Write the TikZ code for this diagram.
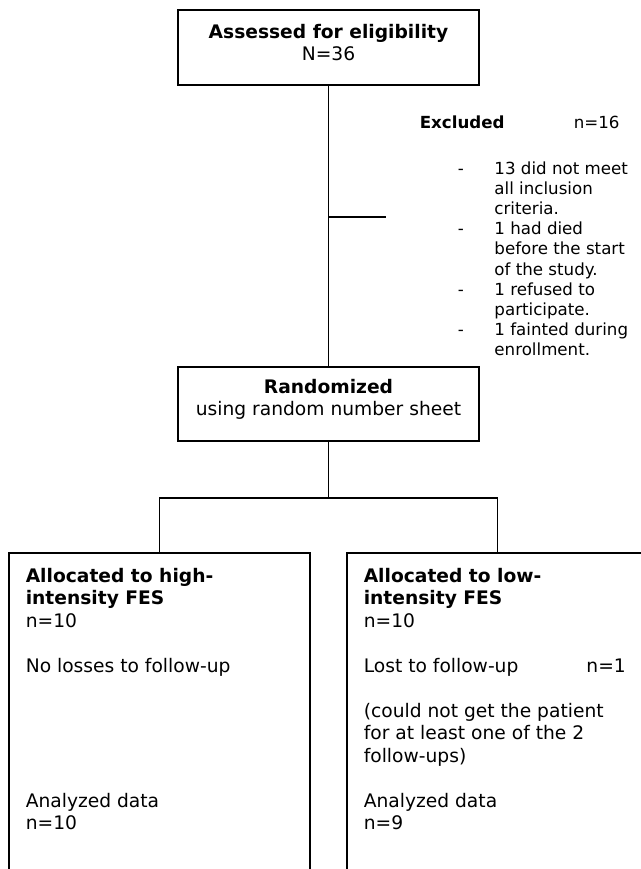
\documentclass[tikz,border=0pt]{standalone}
\usepackage{fontspec}
\setmainfont{DejaVu Sans}

\begin{document}
\begin{tikzpicture}[x=0.75pt, y=-0.75pt, line width=1.2pt,
    box/.style={draw, inner sep=0pt, minimum width=225.75pt},
    txt/.style={inner sep=0pt, font=\fontsize{14}{16.9}\selectfont},
    small/.style={inner sep=0pt, font=\fontsize{12.5}{15.15}\selectfont}]
	\useasboundingbox (0,0) rectangle (641,869);
	\clip (0,0) rectangle (641,869);
	
	% --- Boxes ---
	\node[box, minimum height=56.25pt] (assess) at (328.5,47.5) {};
	\node[box, minimum height=55.5pt] (rand) at (328.5,404) {};
	\node[box, minimum height=260.25pt] (high) at (159.5,726.5) {};
	\node[box, minimum height=260.25pt] (low) at (497.5,726.5) {};
	
	% --- Texts ---
	\node[txt, anchor=base] (assesstxt) at (328.5,38) {\begin{tabular}[t]{@{}c@{}}\textbf{Assessed for eligibility}\\ N=36\end{tabular}};
	\node[txt, anchor=base] (randtxt) at (328.5,393) {\begin{tabular}[t]{@{}c@{}}\textbf{Randomized}\\ using random number sheet\end{tabular}};
	\node[small, anchor=base west] (exchead) at (419,128) {\makebox[115.5pt][l]{\textbf{Excluded}}n=16};
	\node[small, anchor=base west] (exclist) at (457,174) {\begin{tabular}[t]{@{}p{27.5pt}@{}l@{}}
		- & 13 did not meet\\ & all inclusion\\ & criteria.\\
		- & 1 had died\\ & before the start\\ & of the study.\\
		- & 1 refused to\\ & participate.\\
		- & 1 fainted during\\ & enrollment.\end{tabular}};
	\node[txt, anchor=base west] (hightxt) at (25,582) {\begin{tabular}[t]{@{}l@{}}
		\textbf{Allocated to high-}\\ \textbf{intensity FES}\\ n=10\\ \\
		No losses to follow-up\\ \\ \\ \\ \\ \\
		Analyzed data\\ n=10\end{tabular}};
	\node[txt, anchor=base west] (lowtxt) at (363,582) {\begin{tabular}[t]{@{}l@{}}
		\textbf{Allocated to low-}\\ \textbf{intensity FES}\\ n=10\\ \\
		\makebox[196.5pt][l]{Lost to follow-up\hfill n=1}\\ \\
		(could not get the patient\\ for at least one of the 2\\ follow-ups)\\ \\
		Analyzed data\\ n=9\end{tabular}};
	
	% --- Connectors ---
	\coordinate (exc) at (386,217);
	\coordinate (split) at (328.5,498);
	\draw (assess) -- (rand);
	\draw (assess.south |- exc) -- (exc);
	\draw (rand.south) -- (split);
	\draw (high.north) |- (split) -| (low.north);
\end{tikzpicture}
\end{document}
